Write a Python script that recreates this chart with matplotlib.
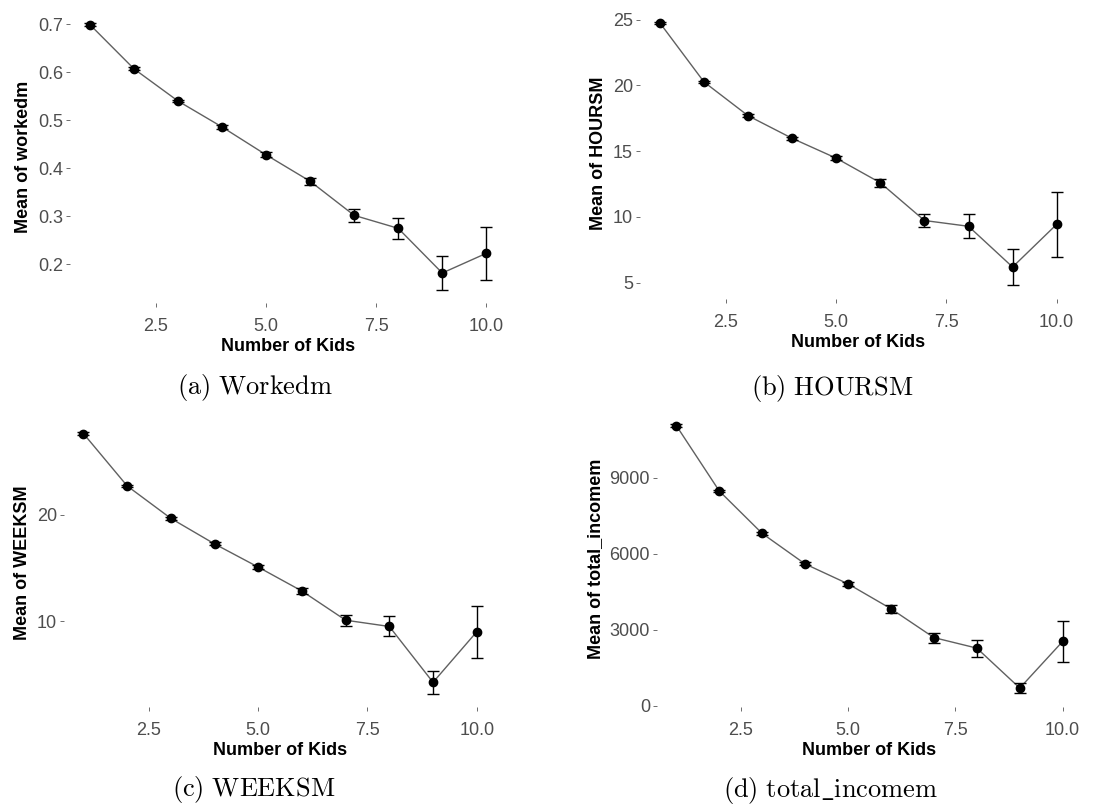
import matplotlib
matplotlib.use('Agg')
import matplotlib.pyplot as plt

plt.rcParams['font.family'] = ['Liberation Sans', 'DejaVu Sans']
plt.rcParams['mathtext.fontset'] = 'cm'

kids = [1, 2, 3, 4, 5, 6, 7, 8, 9, 10]

workedm_mean = [0.699, 0.607, 0.540, 0.486, 0.428, 0.373, 0.302, 0.275, 0.182, 0.223]
workedm_err = [0.003, 0.003, 0.003, 0.004, 0.005, 0.0075, 0.014, 0.0225, 0.035, 0.055]

hoursm_mean = [24.75, 20.26, 17.69, 15.97, 14.46, 12.59, 9.72, 9.28, 6.18, 9.43]
hoursm_err = [0.10, 0.10, 0.10, 0.12, 0.15, 0.30, 0.53, 0.91, 1.40, 2.46]

weeksm_mean = [27.63, 22.71, 19.66, 17.26, 15.08, 12.83, 10.09, 9.50, 4.25, 9.00]
weeksm_err = [0.12, 0.12, 0.12, 0.14, 0.17, 0.32, 0.53, 0.94, 1.09, 2.42]

income_mean = [11054, 8477, 6802, 5599, 4814, 3833, 2695, 2280, 705, 2545]
income_err = [50, 50, 50, 60, 70, 157, 196, 340, 210, 805]

panels = [
    ('workedm', workedm_mean, workedm_err, [0.2, 0.3, 0.4, 0.5, 0.6, 0.7],
     r'$\mathrm{(a)\ Workedm}$', [0.0627, 0.6248, 0.390, 0.363], (0.228, 0.5124)),
    ('HOURSM', hoursm_mean, hoursm_err, [5, 10, 15, 20, 25],
     r'$\mathrm{(b)\ HOURSM}$', [0.5725, 0.6304, 0.3904, 0.3592], (0.744, 0.5112)),
    ('WEEKSM', weeksm_mean, weeksm_err, [10, 20],
     r'$\mathrm{(c)\ WEEKSM}$', [0.0571, 0.1250, 0.3869, 0.3561], (0.227, 0.0149)),
    ('total_incomem', income_mean, income_err, [0, 3000, 6000, 9000],
     r'$\mathrm{(d)\ total\_incomem}$', [0.5877, 0.1252, 0.3801, 0.3662], (0.743, 0.0137)),
]

fig = plt.figure(figsize=(11.18, 8.08), dpi=100)

for name, mean, err, yticks, caption, pos, cpos in panels:
    ax = fig.add_axes(pos)
    ax.plot(kids, mean, color='#606060', lw=1.0, zorder=2)
    ax.errorbar(kids, mean, yerr=err, fmt='none', ecolor='black', elinewidth=1.0,
                capsize=4.5, capthick=1.0, zorder=3)
    ax.plot(kids, mean, 'o', color='black', ms=6, zorder=4)
    ax.set_xticks([2.5, 5.0, 7.5, 10.0])
    ax.set_xticklabels(['2.5', '5.0', '7.5', '10.0'])
    ax.set_yticks(yticks)
    for s in ax.spines.values():
        s.set_visible(False)
    ax.tick_params(axis='both', colors='#555555', length=3, width=0.6,
                   labelsize=13, labelcolor='#4D4D4D', pad=2)
    ax.tick_params(axis='x', pad=8)
    ax.set_xlabel('Number of Kids', fontsize=13, fontweight='bold', labelpad=2)
    ax.set_ylabel('Mean of ' + name, fontsize=13, fontweight='bold', labelpad=4)
    fig.text(cpos[0], cpos[1], caption, fontsize=19, ha='center', va='baseline')

fig.savefig('out.png', dpi=100)
